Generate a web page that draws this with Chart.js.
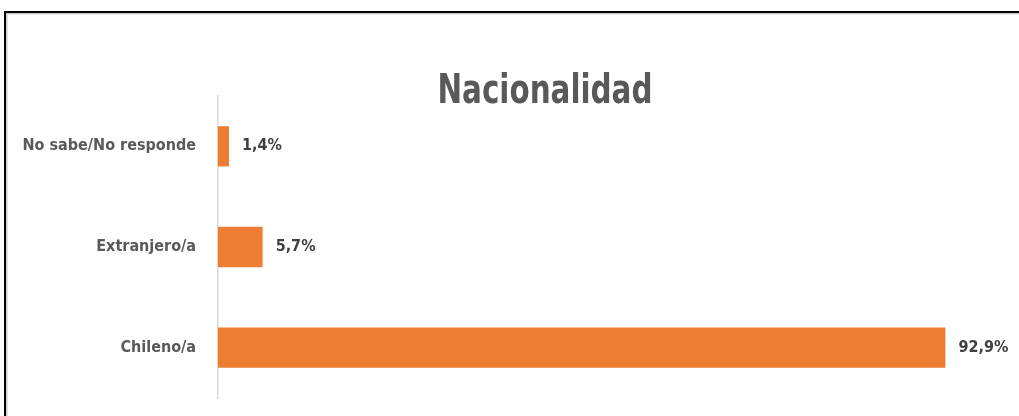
<!DOCTYPE html>
<html>
<head>
<meta charset="utf-8">
<script src="https://cdn.jsdelivr.net/npm/chart.js@4.4.1/dist/chart.umd.min.js"></script>
<style>
  html, body { margin: 0; padding: 0; background: #fff; overflow: hidden; }
  #wrap { position: relative; width: 1019px; height: 416px; }
  #frame {
    position: absolute; left: 4px; top: 11px; width: 1100px; height: 500px;
    border-top: 2px solid #000; border-left: 2px solid #000;
    box-shadow: inset 1px 1px 0 #c8c8c8, inset 2px 2px 0 #e6e6e6;
    pointer-events: none;
  }
  canvas { position: absolute; left: 0; top: 0; }
</style>
</head>
<body>
<div id="wrap">
  <canvas id="myBarChart" width="1019" height="416"></canvas>
  <div id="frame"></div>
</div>
<script>
// data
const categories = ["No sabe/No responde", "Extranjero/a", "Chileno/a"];
const percents = [1.4, 5.7, 92.9];
const chartTitle = "Nacionalidad";

const narrowFont = "'DejaVu Sans Condensed', 'Liberation Sans Narrow', sans-serif";

// value labels at the end of each bar
const barLabels = {
  id: "barLabels",
  afterDatasetsDraw(chart) {
    const ctx = chart.ctx;
    const meta = chart.getDatasetMeta(0);
    ctx.save();
    ctx.font = "bold 16px " + narrowFont;
    ctx.fillStyle = "#404040";
    ctx.textAlign = "left";
    ctx.textBaseline = "middle";
    meta.data.forEach((bar, i) => {
      const txt = percents[i].toFixed(1).replace(".", ",") + "%";
      ctx.fillText(txt, bar.x + 13, bar.y);
    });
    ctx.restore();
  }
};

// narrow bold title, squeezed to the width of the original one
const narrowTitle = {
  id: "narrowTitle",
  afterDraw(chart) {
    const ctx = chart.ctx;
    ctx.save();
    ctx.font = "bold 40px " + narrowFont;
    ctx.fillStyle = "#595959";
    ctx.textAlign = "center";
    ctx.textBaseline = "alphabetic";
    const w = ctx.measureText(chartTitle).width;
    const sx = 215 / w;
    ctx.translate(545, 103);
    ctx.scale(sx, 1);
    ctx.fillText(chartTitle, 0, 0);
    ctx.restore();
  }
};

let barChart = document.getElementById("myBarChart").getContext("2d");
let myBarChart = new Chart(barChart, {
  type: "bar",
  data: {
    labels: categories,
    datasets: [
      {
        data: percents,
        backgroundColor: "#ED7D31",
        borderWidth: 0,
        categoryPercentage: 1,
        barPercentage: 0.4
      }
    ]
  },
  options: {
    indexAxis: "y",
    responsive: false,
    animation: false,
    layout: {
      padding: { left: 0, right: 18, top: 96, bottom: 18 }
    },
    plugins: {
      legend: { display: false },
      tooltip: { enabled: false },
      title: { display: false }
    },
    scales: {
      x: {
        display: false,
        min: 0,
        max: 100,
        grid: { display: false, drawTicks: false },
        border: { display: false },
        ticks: { display: false }
      },
      y: {
        afterFit(scale) {
          scale.width = 218;
          // the tick padding should not push the plot area in
          scale.paddingTop = 0;
          scale.paddingBottom = 0;
        },
        grid: { display: false, drawTicks: false },
        border: { display: true, color: "#d9d9d9", width: 1.5 },
        ticks: {
          padding: 22,
          color: "#595959",
          font: { family: narrowFont, size: 16, weight: "bold" }
        }
      }
    }
  },
  plugins: [barLabels, narrowTitle]
});
</script>
</body>
</html>
